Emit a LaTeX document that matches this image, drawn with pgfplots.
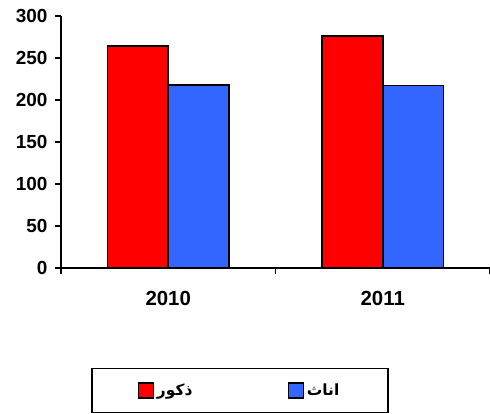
\documentclass[border=0pt]{standalone}
\usepackage{fontspec}
\setmainfont{Liberation Sans}
\newfontfamily\arabicfont[Script=Arabic]{DejaVu Sans}
\TeXXeTstate=1
\usepackage{pgfplots}
\pgfplotsset{compat=1.18}
\definecolor{barred}{RGB}{255,0,0}
\definecolor{barblue}{RGB}{51,102,255}
\begin{document}
\begin{tikzpicture}
\path[use as bounding box] (-61bp,-146bp) rectangle (429bp,268bp);
\begin{axis}[
  scale only axis,
  width=429bp, height=252bp,
  xmin=-0.5, xmax=1.5,
  ymin=0, ymax=300,
  axis x line*=bottom,
  axis y line*=left,
  axis line style={line width=1.5bp,-},
  xtick={-0.5,0.5,1.5},
  x tick label as interval,
  xticklabels={2010,2011},
  ytick={0,50,100,150,200,250,300},
  tick align=outside,
  major tick length=6bp,
  tick style={line width=1.5bp,black},
  /pgf/number format/assume math mode=true,
  xticklabel style={yshift=-14bp, font=\bfseries\fontsize{20.5}{24}\selectfont},
  yticklabel style={xshift=-4bp, font=\bfseries\fontsize{19}{22}\selectfont},
  legend columns=2,
  legend style={at={(0.417,-0.486)}, anchor=center, draw=black, line width=1.5bp,
    inner xsep=46bp, inner ysep=11.5bp,
    nodes={inner xsep=2.5bp, inner ysep=4bp, font=\arabicfont\bfseries\fontsize{15.5}{17}\selectfont},
    /tikz/every even column/.append style={column sep=93bp}},
  legend image code/.code={\draw[#1,line width=1.5bp] (0bp,-7.5bp) rectangle (15bp,7.5bp);},
]
\addplot[ybar, bar width=0.284, bar shift=-0.142, fill=barred, draw=black, line width=1.5bp]
  coordinates {(0,264) (1,276)};
\addplot[ybar, bar width=0.284, bar shift=0.142, fill=barblue, draw=black, line width=1.5bp]
  coordinates {(0,218) (1,217)};
\legend{{\beginR ذكور\endR},{\beginR اناث\endR}}
\end{axis}
\end{tikzpicture}
\end{document}
